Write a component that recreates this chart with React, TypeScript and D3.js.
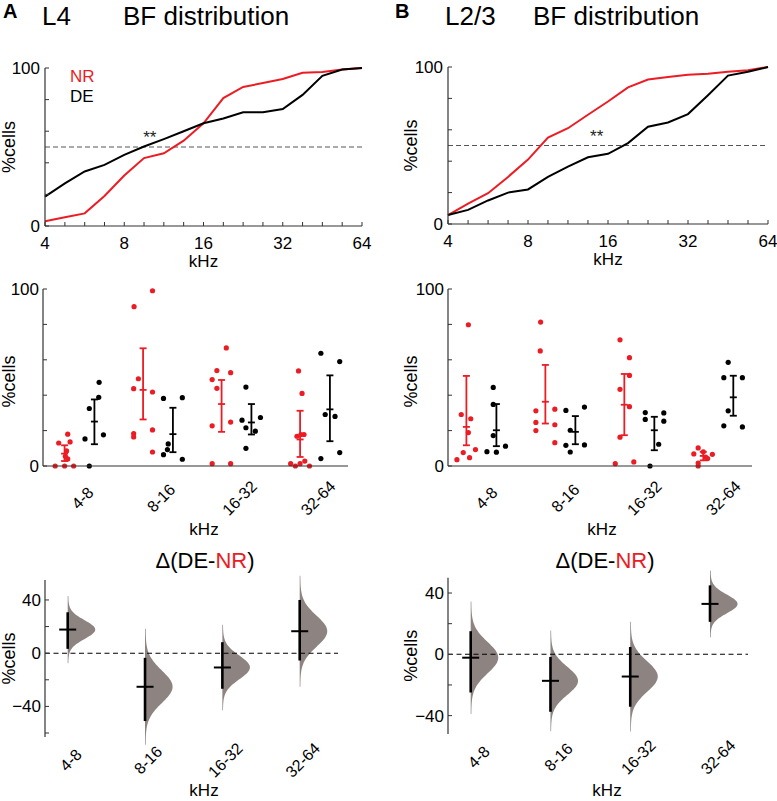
import * as d3 from "d3";

// ── Look ──────────────────────────────────────────────────
const FONT   = "'Liberation Sans', Arial, Helvetica, sans-serif";
const RED    = "#ec1c24";
const INK    = "#000";
const AXIS   = "#333";
const VIOLIN = "#8d8381";

// ── Top row: cumulative BF distribution (quarter-octave steps) ──
const CDF_FREQS  = [4, 4.76, 5.66, 6.73, 8, 9.51, 11.31, 13.45, 16, 19.03, 22.63, 26.91, 32, 38.05, 45.25, 53.82, 64];
const FREQ_TICKS = [4, 8, 16, 32, 64];
const PCT_TICKS  = [0, 20, 40, 60, 80, 100];
const PCT_LABELS = [0, 100];

const L4_NR_CDF  = [3, 5.5, 8, 19, 32, 43, 46, 54, 65, 81, 88, 90.5, 93, 97, 97.5, 99, 100];
const L4_DE_CDF  = [18.6, 27, 34.5, 38.7, 45, 50.3, 55, 60, 65, 68, 72, 72, 74, 83, 95, 99, 100];
const L23_NR_CDF = [5.7, 13, 19.6, 30, 41, 55, 61, 69.6, 78, 87, 92, 93.6, 95, 95.7, 97, 98, 100];
const L23_DE_CDF = [5.7, 9, 15, 20, 22, 30, 36.6, 42.5, 44.7, 51.5, 62, 64.7, 70, 82, 94.5, 97, 100];

// "**" sits at (kHz, %cells)
const L4_STAR  = [10, 59];
const L23_STAR = [14.5, 58.6];

// ── Middle row: % of cells per animal in each band ────────
const BANDS = ["4-8", "8-16", "16-32", "32-64"];

// jitter = horizontal spread of a dot, in band steps
const L4_NR_VALS = [
  [0, 0, 0, 13, 13.6, 18, 8.5, 5.5, 4],
  [90, 99, 49.3, 43.7, 41.8, 18.3, 16.4, 20.4, 7.9],
  [66.7, 53.9, 52.7, 48.8, 43.9, 22.7, 24.8, 1.3, 1.3],
  [53.7, 41, 16.8, 17.8, 17.8, 1.3, 0, 1.3, 2.8, 0],
];
const L4_NR_JIT = [
  [-0.12, 0, 0.115, -0.075, 0.07, 0.04, 0.025, 0.01, 0.04],
  [-0.115, 0.12, -0.06, -0.12, 0.12, -0.12, -0.12, 0.12, 0.12],
  [0.06, -0.06, 0.115, -0.12, -0.06, -0.12, 0.115, -0.12, 0.115],
  [-0.02, 0.025, -0.04, 0.01, 0.05, -0.12, -0.06, 0, 0.06, 0.12],
];
const L4_NR_MEAN = [7, 43, 35, 15];
const L4_NR_LO   = [2.8, 26.3, 19.3, 5.1];
const L4_NR_HI   = [11.7, 66.5, 48.6, 31.2];

const L4_DE_VALS = [
  [15.3, 32.5, 38.8, 47.3, 17.6, 0],
  [38.2, 38.6, 12.5, 9.3, 6.4, 3.8],
  [44.6, 25.9, 27.4, 21.6, 19.7, 10],
  [63.7, 59, 29.1, 28, 4.2, 7.6],
];
const L4_DE_JIT = [
  [-0.12, -0.065, 0.055, 0.06, 0.115, -0.065],
  [-0.12, 0.12, -0.06, -0.07, -0.12, 0.12],
  [-0.07, -0.12, 0.115, -0.07, 0.05, -0.07],
  [-0.115, 0.125, -0.06, 0.065, -0.115, 0.125],
];
const L4_DE_MEAN = [25.1, 18, 24.6, 32];
const L4_DE_LO   = [12.3, 7.8, 17.8, 14];
const L4_DE_HI   = [37.6, 32.9, 35, 51.2];

const L23_NR_VALS = [
  [79.8, 29.1, 26.7, 18.9, 7.6, 9.3, 4.7, 3.6],
  [81.3, 65, 31.2, 32.1, 24.6, 23.3, 20, 13.2],
  [71.3, 61.2, 51.2, 43.3, 33.5, 16.3, 1.3, 2.3],
  [10.2, 6.8, 6.6, 4.2, 1.7, 0, 8, 5],
];
const L23_NR_JIT = [
  [0.025, -0.065, 0.055, 0.025, -0.04, 0.115, 0.04, -0.12],
  [-0.06, -0.065, -0.12, 0.12, -0.12, 0.12, -0.12, 0.12],
  [-0.055, 0.065, 0.065, -0.055, 0.065, -0.055, -0.115, 0.12],
  [-0.065, -0.12, 0.115, 0.055, -0.065, -0.065, 0, 0.03],
];
const L23_NR_MEAN = [22.1, 36.3, 34.6, 5.7];
const L23_NR_LO   = [11.7, 24, 17.4, 3.2];
const L23_NR_HI   = [50.9, 57.1, 52, 8];

const L23_DE_VALS = [
  [44.4, 34.8, 17.2, 8.1, 7.8, 11.2],
  [31.4, 33.3, 20.2, 11.7, 11.9, 7.9],
  [30.2, 30, 26.3, 25.3, 12.3, 0],
  [58.6, 49.9, 49.9, 31.2, 22.7, 22.1],
];
const L23_DE_JIT = [
  [-0.04, -0.04, -0.04, -0.12, 0, 0.115],
  [-0.12, 0.115, -0.065, -0.12, 0.115, -0.065],
  [-0.115, 0.12, -0.115, 0.12, 0.055, -0.055],
  [-0.065, -0.12, 0.115, -0.065, -0.12, 0.115],
];
const L23_DE_MEAN = [20.2, 19.3, 20.2, 38.8];
const L23_DE_LO   = [11.2, 12.3, 8.9, 28.4];
const L23_DE_HI   = [35, 28.2, 27.8, 51];

// ── Bottom row: Δ(DE-NR) with 95% CI ─────────────────────
const L4_DIFF_MEAN  = [17.75, -25.25, -10.75, 16.5];
const L4_DIFF_LO    = [3.25, -51, -26.75, -5.5];
const L4_DIFF_HI    = [30.75, -3.5, 8.25, 40];
const L23_DIFF_MEAN = [-2.2, -17.3, -14.5, 32.9];
const L23_DIFF_LO   = [-24.9, -37.5, -34.2, 21.2];
const L23_DIFF_HI   = [15.1, -1.7, 4.8, 45];

const L4_DIFF_TICKS  = [-60, -40, -20, 0, 20, 40];
const L23_DIFF_TICKS = [-40, -20, 0, 20, 40];
const DIFF_LABELS    = [-40, 0, 40];

// ── Layout ────────────────────────────────────────────────
const COL_A = {
  letter: "A", layer: "L4", letterX: 3, layerX: 42, titleX: 123, yLabelX: 9,
  cdf:  { left: 45, right: 362, top: 68, bottom: 226 },
  dots: { left: 43, right: 348, top: 289, bottom: 466, first: 79.5, last: 315, labelShift: 3, kHzX: 204 },
  diff: { left: 45, right: 338, top: 580, bottom: 737, first: 67.7, last: 299.7, domain: [-63, 55], labelShift: 3, kHzX: 204, titleX: 205 },
};
const COL_B = {
  letter: "B", layer: "L2/3", letterX: 395, layerX: 445, titleX: 533, yLabelX: 411,
  cdf:  { left: 448, right: 768, top: 67, bottom: 224 },
  dots: { left: 448, right: 752, top: 289, bottom: 466, first: 481.4, last: 718.3, labelShift: 5, kHzX: 602 },
  diff: { left: 448, right: 748, top: 577.7, bottom: 734, first: 470.7, last: 710, domain: [-52, 50], labelShift: 8, kHzX: 607, titleX: 605 },
};

const fmtTick = (v: number) => (v < 0 ? "\u2212" + Math.abs(v) : String(v));

function YLabel({ x, y }: { x: number; y: number }) {
  return (
    <text transform={`translate(${x},${y}) rotate(-90)`} textAnchor="middle" dy="0.35em"
      fontSize={18} fontFamily={FONT} fill={INK}>%cells</text>
  );
}

// ── Cumulative distribution panel ─────────────────────────
function CdfPanel({ col, nr, de, star, legend }: any) {
  const b = col.cdf;
  const x = d3.scaleLog().base(2).domain([4, 64]).range([b.left, b.right]);
  const y = d3.scaleLinear().domain([0, 100]).range([b.bottom, b.top]);
  const line = d3.line<number>().x((_, i) => x(CDF_FREQS[i])).y(d => y(d));

  return (
    <g fontFamily={FONT}>
      <line x1={b.left} x2={b.right} y1={y(50)} y2={y(50)}
        stroke="#555" strokeWidth={1} strokeDasharray="5 3" />
      <path d={line(nr) ?? ""} fill="none" stroke={RED} strokeWidth={2} />
      <path d={line(de) ?? ""} fill="none" stroke={INK} strokeWidth={2} />
      <text x={x(star[0])} y={y(star[1])} textAnchor="middle" dy="0.6em"
        fontSize={17} fill="#222">**</text>

      {/* axes */}
      <line x1={b.left} x2={b.left} y1={b.top} y2={b.bottom} stroke={AXIS} strokeWidth={1.2} />
      <line x1={b.left} x2={b.right} y1={b.bottom} y2={b.bottom} stroke={AXIS} strokeWidth={1.2} />
      {PCT_TICKS.map(t => (
        <line key={t} x1={b.left} x2={b.left + 4} y1={y(t)} y2={y(t)} stroke={AXIS} strokeWidth={1} />
      ))}
      {PCT_LABELS.map(t => (
        <text key={t} x={b.left - 5} y={y(t)} dy="0.35em" textAnchor="end" fontSize={17} fill={INK}>{t}</text>
      ))}
      {CDF_FREQS.map(f => (
        <line key={f} x1={x(f)} x2={x(f)} y1={b.bottom} y2={b.bottom - 4} stroke={AXIS} strokeWidth={1} />
      ))}
      {FREQ_TICKS.map(f => (
        <text key={f} x={x(f)} y={b.bottom + 23} textAnchor="middle" fontSize={17} fill={INK}>{f}</text>
      ))}
      <text x={(b.left + b.right) / 2} y={b.bottom + 41} textAnchor="middle" fontSize={17} fill={INK}>kHz</text>
      <YLabel x={col.yLabelX} y={(b.top + b.bottom) / 2} />

      {legend && (
        <g fontSize={17}>
          <text x={b.left + 25} y={82} fill={RED}>NR</text>
          <text x={b.left + 25} y={102} fill={INK}>DE</text>
        </g>
      )}
    </g>
  );
}

// ── Dot + error bar panel ─────────────────────────────────
function DotPanel({ col, groups }: any) {
  const b = col.dots;
  const xb = d3.scalePoint<string>().domain(BANDS).range([b.first, b.last]);
  const step = xb.step();
  const y = d3.scaleLinear().domain([0, 100]).range([b.bottom, b.top]);
  const pair = 0.19 * step;

  return (
    <g fontFamily={FONT}>
      {groups.map((g: any, gi: number) => {
        const dx = gi === 0 ? -pair : pair;
        return BANDS.map((band, bi) => {
          const cx = (xb(band) ?? 0) + dx;
          return (
            <g key={band + gi}>
              {g.vals[bi].map((v: number, k: number) => (
                <circle key={k} cx={cx + g.jit[bi][k] * step} cy={y(v)} r={2.6} fill={g.color} />
              ))}
              <g stroke={g.color} strokeWidth={1.8}>
                <line x1={cx} x2={cx} y1={y(g.lo[bi])} y2={y(g.hi[bi])} />
                <line x1={cx - 3.5} x2={cx + 3.5} y1={y(g.lo[bi])} y2={y(g.lo[bi])} />
                <line x1={cx - 3.5} x2={cx + 3.5} y1={y(g.hi[bi])} y2={y(g.hi[bi])} />
                <line x1={cx - 3.5} x2={cx + 3.5} y1={y(g.mean[bi])} y2={y(g.mean[bi])} />
              </g>
            </g>
          );
        });
      })}

      <line x1={b.left} x2={b.left} y1={b.top} y2={b.bottom} stroke={AXIS} strokeWidth={1.2} />
      <line x1={b.left} x2={b.right} y1={b.bottom} y2={b.bottom} stroke={AXIS} strokeWidth={1.2} />
      {PCT_TICKS.map(t => (
        <line key={t} x1={b.left} x2={b.left + 4} y1={y(t)} y2={y(t)} stroke={AXIS} strokeWidth={1} />
      ))}
      {PCT_LABELS.map(t => (
        <text key={t} x={b.left - 4} y={y(t)} dy="0.35em" textAnchor="end" fontSize={17} fill={INK}>{t}</text>
      ))}
      {BANDS.map(band => (
        <text key={band} transform={`translate(${(xb(band) ?? 0) + b.labelShift},${b.bottom + 32}) rotate(-45)`}
          textAnchor="middle" dy="0.35em" fontSize={16} fill={INK}>{band}</text>
      ))}
      <text x={b.kHzX} y={b.bottom + 69} textAnchor="middle" fontSize={17} fill={INK}>kHz</text>
      <YLabel x={col.yLabelX} y={(b.top + b.bottom) / 2 + 4} />
    </g>
  );
}

// ── Difference (half-violin) panel ────────────────────────
function DiffPanel({ col, mean, lo, hi, ticks }: any) {
  const b = col.diff;
  const xb = d3.scalePoint<string>().domain(BANDS).range([b.first, b.last]);
  const y = d3.scaleLinear().domain(b.domain).range([b.bottom, b.top]);
  const W = 27;

  const shapes = BANDS.map((band, i) => {
    const sd = (hi[i] - lo[i]) / 3.92;
    const zs = d3.range(-3.6, 3.61, 0.1);
    const area = d3.area<number>()
      .y(z => y(mean[i] + z * sd))
      .x0(() => xb(band) ?? 0)
      .x1(z => (xb(band) ?? 0) + W * Math.exp(-z * z / 2) + 0.6)
      .curve(d3.curveBasis);
    return area(zs) ?? "";
  });

  return (
    <g fontFamily={FONT}>
      <text x={b.titleX} y={568} textAnchor="middle" fontSize={22} fill={INK}>
        Δ(DE-<tspan fill={RED}>NR</tspan>)
      </text>
      {shapes.map((d, i) => <path key={i} d={d} fill={VIOLIN} />)}
      <line x1={b.left} x2={b.right} y1={y(0)} y2={y(0)} stroke={INK} strokeWidth={1.1} strokeDasharray="5 3.5" />
      {BANDS.map((band, i) => {
        const cx = xb(band) ?? 0;
        return (
          <g key={band} stroke={INK}>
            <line x1={cx} x2={cx} y1={y(lo[i])} y2={y(hi[i])} strokeWidth={2.6} />
            <line x1={cx - 8.5} x2={cx + 8.5} y1={y(mean[i])} y2={y(mean[i])} strokeWidth={2} />
          </g>
        );
      })}

      <line x1={b.left} x2={b.left} y1={b.top} y2={b.bottom} stroke={AXIS} strokeWidth={1.2} />
      {ticks.map((t: number) => (
        <line key={t} x1={b.left} x2={b.left + 4} y1={y(t)} y2={y(t)} stroke={AXIS} strokeWidth={1} />
      ))}
      {DIFF_LABELS.map(t => (
        <text key={t} x={b.left - 4} y={y(t)} dy="0.35em" textAnchor="end" fontSize={17} fill={INK}>{fmtTick(t)}</text>
      ))}
      {BANDS.map(band => (
        <text key={band} transform={`translate(${(xb(band) ?? 0) + b.labelShift},${b.bottom + 23}) rotate(-45)`}
          textAnchor="middle" dy="0.35em" fontSize={16} fill={INK}>{band}</text>
      ))}
      <text x={b.kHzX} y={796} textAnchor="middle" fontSize={17} fill={INK}>kHz</text>
      <YLabel x={col.yLabelX} y={(b.top + b.bottom) / 2} />
    </g>
  );
}

function Header({ col }: any) {
  return (
    <g fontFamily={FONT} fill={INK}>
      <text x={col.letterX} y={18} fontSize={20} fontWeight={700}>{col.letter}</text>
      <text x={col.layerX} y={25} fontSize={26}>{col.layer}</text>
      <text x={col.titleX} y={25} fontSize={26}>BF distribution</text>
    </g>
  );
}

export default function App() {
  const l4Groups = [
    { color: RED, vals: L4_NR_VALS, jit: L4_NR_JIT, mean: L4_NR_MEAN, lo: L4_NR_LO, hi: L4_NR_HI },
    { color: INK, vals: L4_DE_VALS, jit: L4_DE_JIT, mean: L4_DE_MEAN, lo: L4_DE_LO, hi: L4_DE_HI },
  ];
  const l23Groups = [
    { color: RED, vals: L23_NR_VALS, jit: L23_NR_JIT, mean: L23_NR_MEAN, lo: L23_NR_LO, hi: L23_NR_HI },
    { color: INK, vals: L23_DE_VALS, jit: L23_DE_JIT, mean: L23_DE_MEAN, lo: L23_DE_LO, hi: L23_DE_HI },
  ];

  return (
    <div style={{ position: "absolute", left: 0, top: 0 }}>
      <svg width={777} height={801} viewBox="0 0 777 801" style={{ display: "block", background: "#fff" }}>
        <Header col={COL_A} />
        <Header col={COL_B} />
        <CdfPanel col={COL_A} nr={L4_NR_CDF} de={L4_DE_CDF} star={L4_STAR} legend />
        <CdfPanel col={COL_B} nr={L23_NR_CDF} de={L23_DE_CDF} star={L23_STAR} />
        <DotPanel col={COL_A} groups={l4Groups} />
        <DotPanel col={COL_B} groups={l23Groups} />
        <DiffPanel col={COL_A} mean={L4_DIFF_MEAN} lo={L4_DIFF_LO} hi={L4_DIFF_HI} ticks={L4_DIFF_TICKS} />
        <DiffPanel col={COL_B} mean={L23_DIFF_MEAN} lo={L23_DIFF_LO} hi={L23_DIFF_HI} ticks={L23_DIFF_TICKS} />
      </svg>
    </div>
  );
}
